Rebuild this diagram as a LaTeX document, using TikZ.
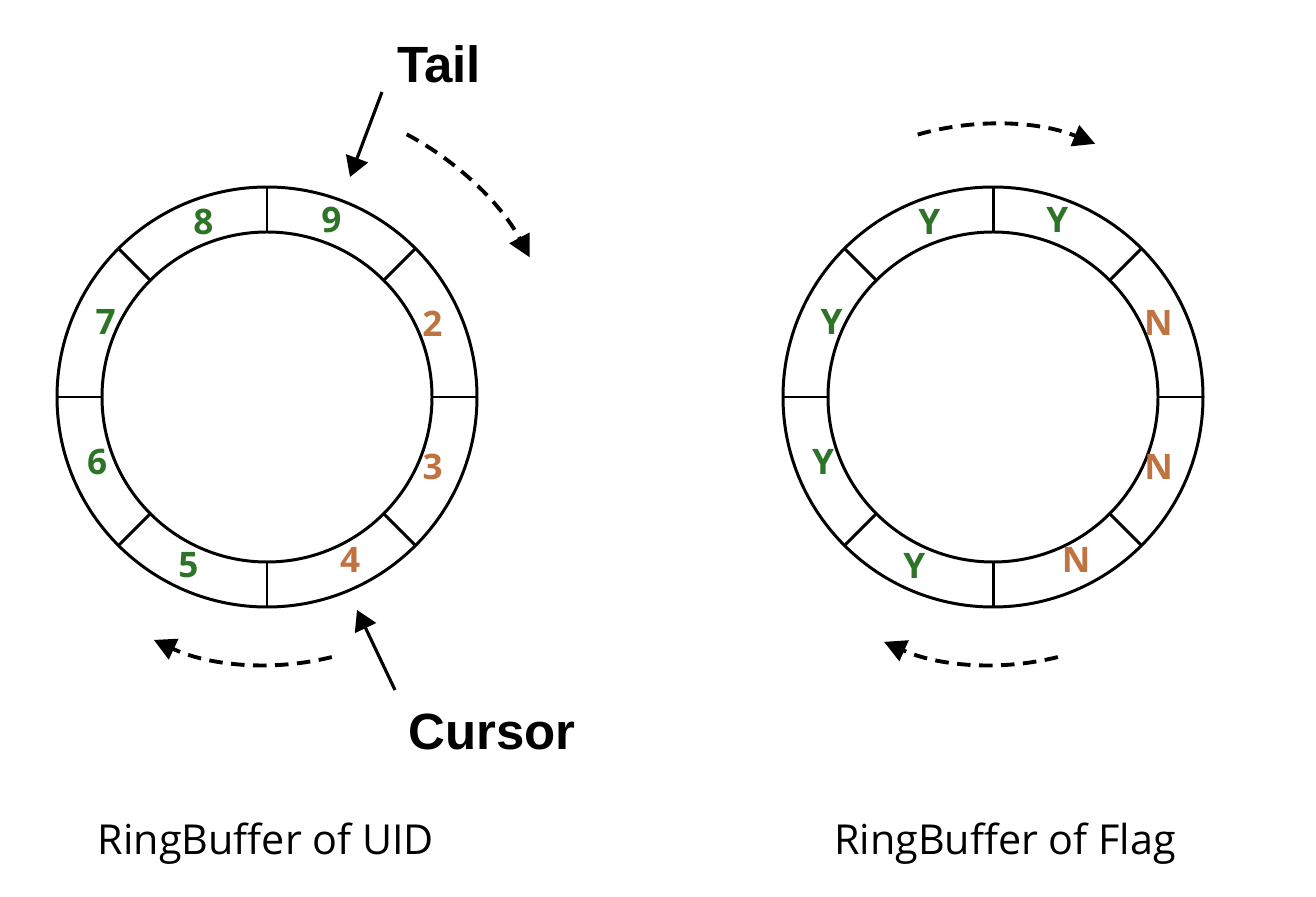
\documentclass[tikz,border=0pt]{standalone}
\usepackage{fontspec}
\setmainfont{Open Sans}
\newfontfamily\arialfont{Liberation Sans}
\usetikzlibrary{arrows.meta}
\definecolor{idgreen}{RGB}{45,115,40}
\definecolor{idorange}{RGB}{190,115,65}

\begin{document}
\begin{tikzpicture}[
    ring/.style={line width=1.7pt},
    slot/.style={font=\bfseries\fontsize{20}{20}\selectfont},
    pointer/.style={line width=1.8pt,-{Triangle[length=0.4cm,width=0.46cm]}},
    flow/.style={line width=2.2pt,dash pattern=on 0.27cm off 0.17cm,-{Triangle[length=0.44cm,width=0.44cm]}},
    marker/.style={font=\arialfont\bfseries\fontsize{29}{29}\selectfont,anchor=base},
    caption/.style={font=\fontsize{23.5}{23.5}\selectfont,anchor=base}
  ]
    \useasboundingbox (0,0) rectangle (26.32,17.92);

    \coordinate (uid) at (5.34,9.98);
    \coordinate (flag) at (19.86,9.98);

    \foreach \c in {uid,flag} {
      \draw[ring] (\c) circle(4.2);
      \draw[ring] (\c) circle(3.3);
      \foreach \a in {0,45,...,315}
        \draw[ring] (\c) ++(\a:3.3) -- ++(\a:0.9);
    }

    \foreach \a/\r/\t/\col [count=\i] in {110/3.72/8/idgreen, 70/3.76/9/idgreen,
        24/3.62/2/idorange, -23/3.6/3/idorange, -63/3.66/4/idorange,
        -115/3.72/5/idgreen, -159/3.64/6/idgreen, 155/3.56/7/idgreen}
      \path (uid) ++(\a:\r) node[slot,text=\col] (uid\i) {\t};

    \foreach \a/\r/\t/\col [count=\i] in {110/3.72/Y/idgreen, 70/3.76/Y/idgreen,
        24/3.62/N/idorange, -23/3.6/N/idorange, -63/3.66/N/idorange,
        -115/3.72/Y/idgreen, -159/3.64/Y/idgreen, 155/3.56/Y/idgreen}
      \path (flag) ++(\a:\r) node[slot,text=\col] (flag\i) {\t};

    \node[marker] (tail) at (8.78,16.26) {Tail};
    \node[marker] (cursor) at (9.84,2.92) {Cursor};
    \coordinate (tailfrom) at (7.64,16.08);
    \coordinate (tailto) at (7.0,14.38);
    \coordinate (cursorfrom) at (7.9,4.12);
    \coordinate (cursorto) at (7.14,5.72);
    \draw[pointer] (tailfrom) -- (tailto);
    \draw[pointer] (cursorfrom) -- (cursorto);

    \draw[flow] (uid) ++(62:5.95) arc[start angle=62,end angle=28,radius=5.95];
    \draw[flow] (uid) ++(-76:5.36) arc[start angle=-76,end angle=-115,radius=5.36];
    \draw[flow] (flag) ++(106:5.46) arc[start angle=106,end angle=68,radius=5.46];
    \draw[flow] (flag) ++(-76:5.36) arc[start angle=-76,end angle=-114,radius=5.36];

    \node[caption] (uidname) at (5.32,0.82) {RingBuffer of UID};
    \node[caption] (flagname) at (20.1,0.82) {RingBuffer of Flag};
  \end{tikzpicture}
\end{document}
